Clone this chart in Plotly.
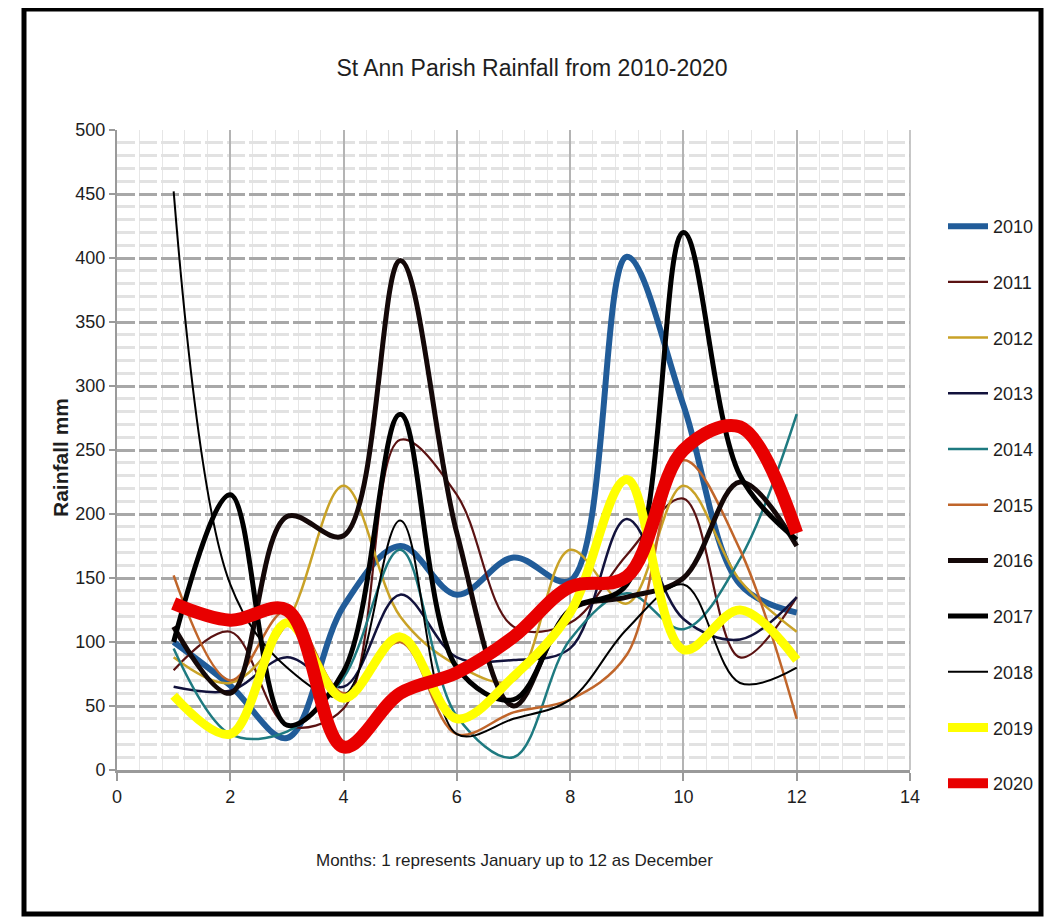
import plotly.graph_objects as go

months = [1, 2, 3, 4, 5, 6, 7, 8, 9, 10, 11, 12]
years = ["2010", "2011", "2012", "2013", "2014", "2015", "2016", "2017", "2018", "2019", "2020"]

r2010 = [100, 66, 25, 128, 175, 137, 166, 148, 401, 285, 145, 123]
r2011 = [78, 108, 35, 48, 258, 215, 112, 115, 168, 212, 88, 135]
r2012 = [88, 68, 115, 222, 120, 82, 70, 172, 130, 222, 148, 108]
r2013 = [65, 62, 88, 65, 137, 88, 86, 95, 196, 118, 102, 135]
r2014 = [95, 28, 30, 72, 172, 42, 10, 102, 138, 110, 165, 278]
r2015 = [152, 70, 125, 60, 100, 28, 45, 55, 90, 242, 172, 40]
r2016 = [112, 60, 198, 183, 398, 185, 50, 125, 135, 150, 225, 175]
r2017 = [100, 215, 35, 77, 278, 80, 55, 125, 145, 420, 230, 180]
r2018 = [452, 145, 80, 58, 195, 28, 40, 55, 110, 145, 68, 80]
r2019 = [58, 28, 115, 56, 104, 40, 73, 123, 227, 94, 125, 86]
r2020 = [130, 117, 125, 18, 60, 76, 104, 143, 151, 250, 268, 185]

series = [r2010, r2011, r2012, r2013, r2014, r2015, r2016, r2017, r2018, r2019, r2020]
colors = ["#215C99", "#5A1212", "#C9A227", "#12123C", "#1E7A80", "#C0652A",
          "#140808", "#000000", "#000000", "#FFFF00", "#E80000"]
widths = [6, 2.2, 2.5, 2.5, 2.5, 2.5, 5, 5, 2, 9, 13]

font_main = "Liberation Sans, Arial, sans-serif"
txt = "#1E1E1E"

# page body has an 8px margin; figure sized to fill the rest of the window
OFF = 8
W, H = 1053 - OFF, 917 - OFF
L, R, T, B = 117 - OFF, 910 - OFF, 130 - OFF, 770 - OFF

fig = go.Figure()
for yr, vals, c, w in zip(years, series, colors, widths):
    fig.add_trace(go.Scatter(
        x=months, y=vals, name=yr, mode="lines",
        line=dict(color=c, width=w, shape="spline", smoothing=1.0),
        legendgroup=yr,
    ))

def px_x(p):
    return (p - OFF - L) / (R - L)

def px_y(p):
    return (B - (p - OFF)) / (B - T)

fig.update_layout(
    width=W, height=H,
    margin=dict(l=L, r=W - R, t=T, b=H - B),
    paper_bgcolor="white", plot_bgcolor="white",
    title=dict(text="St Ann Parish Rainfall from 2010-2020", x=(532 - OFF) / W, xanchor="center",
               y=1 - (68 - OFF) / H, yanchor="middle",
               font=dict(family=font_main, size=23, color=txt)),
    showlegend=True,
    legend=dict(x=px_x(943), y=px_y(208), xanchor="left", yanchor="top",
                font=dict(family=font_main, size=18, color=txt),
                tracegroupgap=29.3, traceorder="grouped", bgcolor="rgba(0,0,0,0)",
                itemwidth=40),
    xaxis=dict(range=[0, 14], dtick=2, tick0=0, showgrid=True, gridcolor="#B4B4B4", gridwidth=1.5,
               zeroline=False, showline=True, linecolor="#9A9A9A", linewidth=3,
               ticks="outside", ticklen=8, tickcolor="#9A9A9A", tickwidth=1.5,
               tickfont=dict(family=font_main, size=18, color=txt),
               minor=dict(dtick=0.4, showgrid=True, gridcolor="#E6E6E6", gridwidth=1)),
    yaxis=dict(range=[0, 500], dtick=50, showgrid=True, gridcolor="#A8A8A8", gridwidth=3,
               griddash="18px,4px", zeroline=False, showline=True, linecolor="#9A9A9A", linewidth=2,
               ticks="outside", ticklen=6, tickcolor="#9A9A9A", tickwidth=1.5,
               tickfont=dict(family=font_main, size=18, color=txt),
               minor=dict(dtick=10, showgrid=True, gridcolor="#E2E2E2", gridwidth=2.5,
                          griddash="18px,4px")),
    annotations=[
        dict(text="<b>Rainfall mm</b>", xref="paper", yref="paper", x=px_x(60), y=px_y(458),
             xanchor="center", yanchor="middle", textangle=-90, showarrow=False,
             font=dict(family=font_main, size=21, color=txt)),
        dict(text="Months: 1 represents January up to 12 as December", xref="paper", yref="paper",
             x=px_x(514), y=px_y(860), xanchor="center", yanchor="middle", showarrow=False,
             font=dict(family=font_main, size=17, color=txt)),
    ],
    shapes=[
        dict(type="rect", xref="paper", yref="paper",
             x0=px_x(24), x1=px_x(1041), y0=px_y(914), y1=px_y(9),
             line=dict(color="#000000", width=5), fillcolor="rgba(0,0,0,0)", layer="below"),
        dict(type="line", xref="paper", yref="paper", x0=1, x1=1, y0=0, y1=1,
             line=dict(color="#B4B4B4", width=1.5)),
    ],
)

fig.write_html("out.html")
